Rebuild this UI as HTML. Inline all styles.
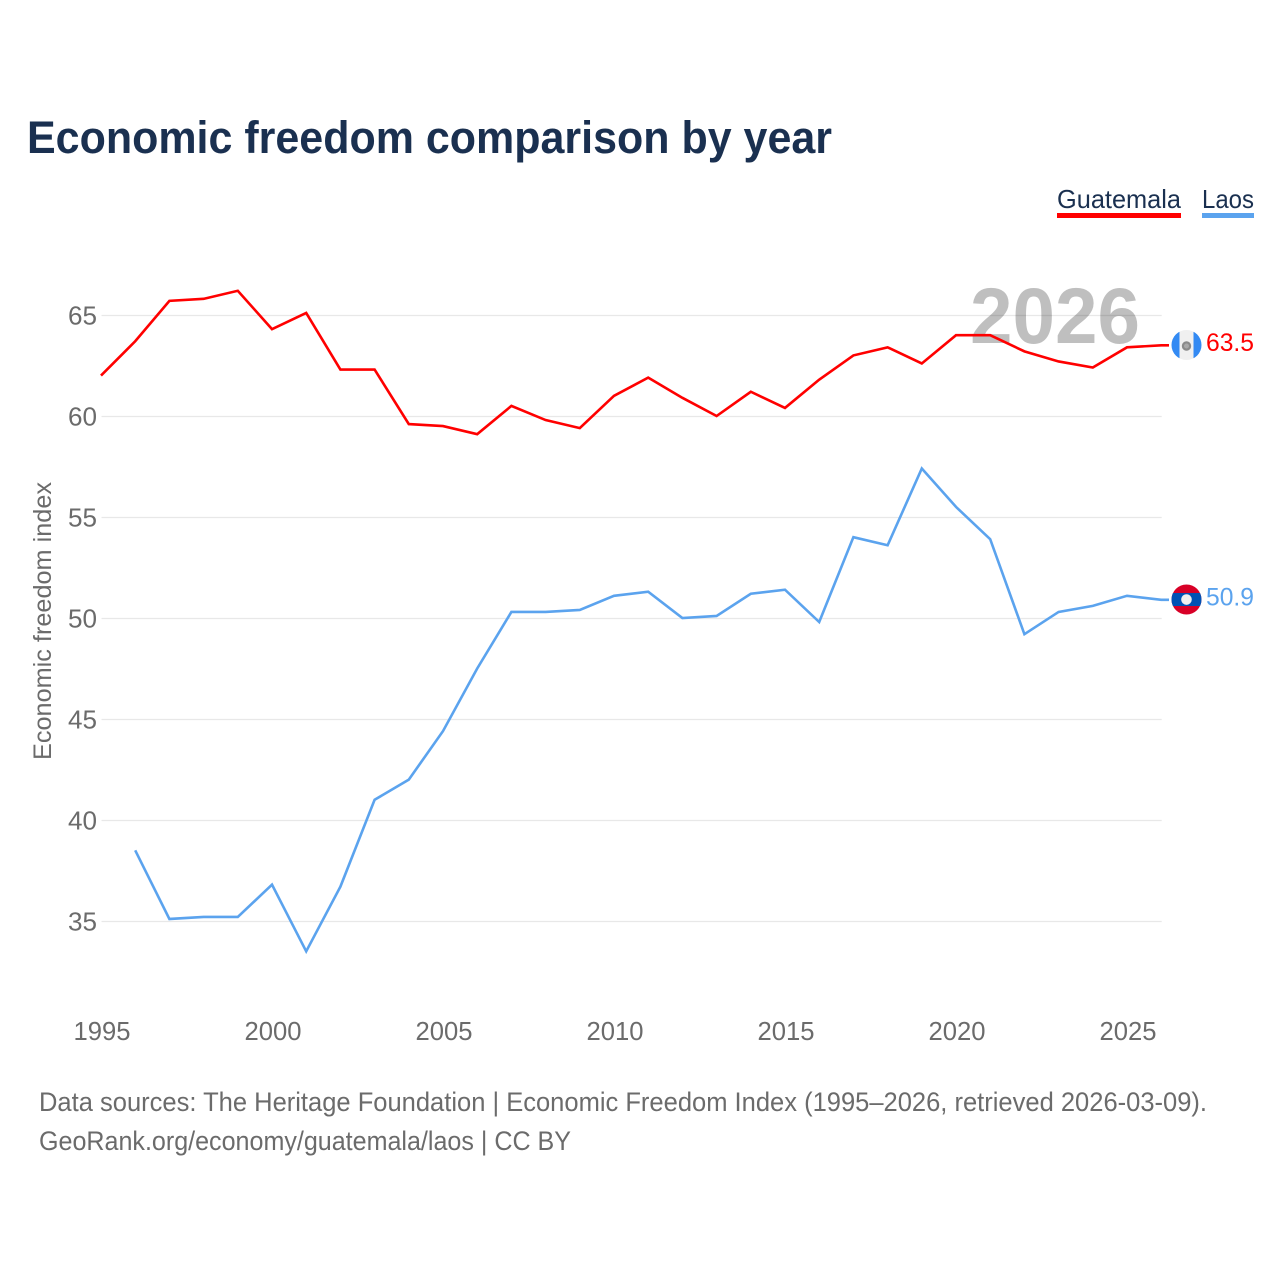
<!DOCTYPE html>
<html lang="en">
<head>
<meta charset="utf-8">
<title>Economic freedom comparison by year</title>
<style>
html,body{margin:0;padding:0;background:#fff;}
svg{display:block;font-family:"Liberation Sans",sans-serif;}
</style>
</head>
<body>
<svg id="chart" xmlns="http://www.w3.org/2000/svg" width="1280" height="1280" viewBox="0 0 1280 1280">
  <defs>
    <clipPath id="flag-clip-a"><circle cx="0" cy="0" r="15"/></clipPath>
  </defs>
  <rect x="0" y="0" width="1280" height="1280" fill="#ffffff"/>
  <text x="27" y="153" font-size="45" font-weight="700" fill="#1a3050" textLength="805" lengthAdjust="spacingAndGlyphs">Economic freedom comparison by year</text>
  <g id="grid"></g>
  <text id="year-watermark" x="1140" y="343" text-anchor="end" font-size="79" font-weight="700" fill="rgba(0,0,0,0.25)" textLength="170" lengthAdjust="spacingAndGlyphs">2026</text>
  <g id="y-ticks"></g>
  <g id="x-ticks"></g>
  <text transform="translate(51,621) rotate(-90)" text-anchor="middle" font-size="25" fill="#6b6b6b" textLength="278" lengthAdjust="spacingAndGlyphs">Economic freedom index</text>
  <g id="series"></g>
  <g id="end-markers"></g>
  <g>
    <g>
      <text x="1057" y="208" font-size="26" fill="#1a3050" textLength="124" lengthAdjust="spacingAndGlyphs">Guatemala</text>
      <rect x="1057" y="213" width="124" height="5" fill="#ff0000"/>
    </g>
    <g>
      <text x="1202" y="208" font-size="26" fill="#1a3050" textLength="52" lengthAdjust="spacingAndGlyphs">Laos</text>
      <rect x="1202" y="213" width="52" height="5" fill="#5ba3ee"/>
    </g>
  </g>
  <text x="39" y="1111" font-size="26.5" fill="#6b6b6b" textLength="1168" lengthAdjust="spacingAndGlyphs">Data sources: The Heritage Foundation | Economic Freedom Index (1995–2026, retrieved 2026-03-09).</text>
  <text x="39" y="1150" font-size="26.5" fill="#6b6b6b" textLength="532" lengthAdjust="spacingAndGlyphs">GeoRank.org/economy/guatemala/laos | CC BY</text>
</svg>
<script>
const years = [1995,1996,1997,1998,1999,2000,2001,2002,2003,2004,2005,2006,2007,2008,2009,2010,2011,2012,2013,2014,2015,2016,2017,2018,2019,2020,2021,2022,2023,2024,2025,2026];
const guatemala = [62.0,63.7,65.7,65.8,66.2,64.3,65.1,62.3,62.3,59.6,59.5,59.1,60.5,59.8,59.4,61.0,61.9,60.9,60.0,61.2,60.4,61.8,63.0,63.4,62.6,64.0,64.0,63.2,62.7,62.4,63.4,63.5];
const laos = [null,38.5,35.1,35.2,35.2,36.8,33.5,36.7,41.0,42.0,44.4,47.5,50.3,50.3,50.4,51.1,51.3,50.0,50.1,51.2,51.4,49.8,54.0,53.6,57.4,55.5,53.9,49.2,50.3,50.6,51.1,50.9];
const yTickValues = [35,40,45,50,55,60,65];
const xTickValues = [1995,2000,2005,2010,2015,2020,2025];

const NS = 'http://www.w3.org/2000/svg';
function xScale(year){ return 101.5 + (year - 1995) * 34.2; }
function yScale(value){ return 315.5 + (65 - value) * 20.2; }
function make(tag, attrs, parent){
  const el = document.createElementNS(NS, tag);
  for (const k in attrs) el.setAttribute(k, attrs[k]);
  parent.appendChild(el);
  return el;
}
const grid = document.getElementById('grid');
const yTicksG = document.getElementById('y-ticks');
const xTicksG = document.getElementById('x-ticks');
const seriesG = document.getElementById('series');
const markersG = document.getElementById('end-markers');

yTickValues.forEach(function(v){
  const line = make('line', {x1: xScale(1995), x2: xScale(2026), y1: yScale(v), y2: yScale(v), stroke: '#e8e8e8', 'stroke-width': 1.2}, grid);
  
  
  const label = make('text', {x: 97, y: yScale(v) + 9, 'text-anchor': 'end', 'font-size': 26, fill: '#6b6b6b', textLength: 29, lengthAdjust: 'spacingAndGlyphs'}, yTicksG);
  
  
  label.textContent = String(v);
});
xTickValues.forEach(function(y){
  const label = make('text', {x: xScale(y) + 0.5, y: 1040, 'text-anchor': 'middle', 'font-size': 26, fill: '#6b6b6b', textLength: 57, lengthAdjust: 'spacingAndGlyphs'}, xTicksG);
  
  
  label.textContent = String(y);
});

// Series sit about half a pixel up and left of the gridline centres.
function pathFor(values){
  let d = '';
  values.forEach(function(v, i){
    if (v === null) return;
    d += (d ? 'L' : 'M') + (xScale(years[i]) - 0.5).toFixed(2) + ' ' + (yScale(v) - 0.5).toFixed(2);
  });
  return d;
}
function lastValue(values){ return values[values.length - 1]; }

const lineG = make('path', {d: pathFor(guatemala) + 'L1169 ' + (yScale(lastValue(guatemala)) - 0.5).toFixed(2), fill: 'none', stroke: '#ff0000', 'stroke-width': 2.6, 'stroke-linejoin': 'miter'}, seriesG);


const lineL = make('path', {d: pathFor(laos) + 'L1169 ' + (yScale(lastValue(laos)) - 0.5).toFixed(2), fill: 'none', stroke: '#5ba3ee', 'stroke-width': 2.6, 'stroke-linejoin': 'miter'}, seriesG);



const flagCx = 1186.5;
// Guatemala flag
const gy = yScale(lastValue(guatemala)) - 0.8;
const flagG = make('g', {transform: 'translate(' + flagCx + ',' + gy + ')', 'clip-path': 'url(#flag-clip-a)'}, markersG);


make('rect', {x: -15, y: -15, width: 30, height: 30, fill: '#f0f0f0'}, flagG);
make('rect', {x: -15, y: -15, width: 8, height: 30, fill: '#338af3'}, flagG);
make('rect', {x: 7, y: -15, width: 8, height: 30, fill: '#338af3'}, flagG);
make('circle', {cx: 0, cy: 1, r: 3.6, fill: '#a8a8a8', stroke: '#8a8a8a', 'stroke-width': 2.2}, flagG);
const labelGt = make('text', {x: 1254, y: gy + 6, 'text-anchor': 'end', 'font-size': 25, fill: '#ff0000', textLength: 48, lengthAdjust: 'spacingAndGlyphs'}, markersG);


labelGt.textContent = lastValue(guatemala).toFixed(1);

// Laos flag
const ly = yScale(lastValue(laos)) - 0.8;
const flagL = make('g', {transform: 'translate(' + flagCx + ',' + ly + ')', 'clip-path': 'url(#flag-clip-a)'}, markersG);


make('rect', {x: -15, y: -15, width: 30, height: 30, fill: '#d80027'}, flagL);
make('rect', {x: -15, y: -6.5, width: 30, height: 13, fill: '#0052b4'}, flagL);
make('circle', {cx: 0, cy: 0, r: 5.3, fill: '#f0f0f0'}, flagL);
const labelLa = make('text', {x: 1254, y: ly + 6, 'text-anchor': 'end', 'font-size': 25, fill: '#5ba3ee', textLength: 48, lengthAdjust: 'spacingAndGlyphs'}, markersG);


labelLa.textContent = lastValue(laos).toFixed(1);
</script>
</body>
</html>
